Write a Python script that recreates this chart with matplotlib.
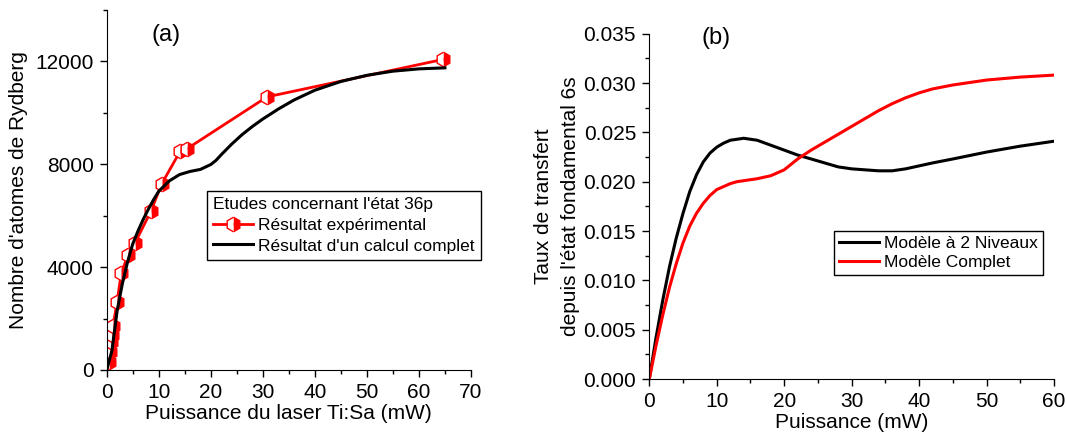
import numpy as np
import matplotlib
matplotlib.use("Agg")
import matplotlib.pyplot as plt
from matplotlib.ticker import MultipleLocator

plt.rcParams['font.family'] = ['Liberation Sans', 'DejaVu Sans']

# -------------------------------
# (a) data
# -------------------------------
exp_power = [0.4, 0.6, 0.8, 1.0, 1.2, 2.0, 2.8, 4.1, 5.4, 8.5, 10.6, 14.1, 15.4, 30.8, 64.7]
exp_atoms = [300, 700, 1100, 1350, 1700, 2650, 3780, 4460, 4920, 6180, 7250, 8500, 8600, 10620, 12080]

calc_power = [0, 1, 2, 3, 4, 5, 6, 7, 8, 9, 10, 12, 14, 16, 18, 20, 21, 22, 24, 26, 28,
              30, 33, 36, 40, 45, 50, 55, 60, 65]
calc_atoms = [0, 750, 2300, 3350, 4200, 4900, 5400, 5850, 6250, 6620, 6950, 7350, 7600,
              7720, 7800, 7990, 8150, 8370, 8780, 9150, 9470, 9760, 10150, 10500, 10880,
              11220, 11460, 11620, 11710, 11750]

# -------------------------------
# (b) data
# -------------------------------
puissance = [0, 1, 2, 3, 4, 5, 6, 7, 8, 9, 10, 11, 12, 13, 14, 15, 16, 18, 20, 22, 24,
             26, 28, 30, 32, 34, 36, 38, 40, 42, 45, 50, 55, 60]
taux_2niv = [0, 0.0042, 0.0080, 0.0114, 0.0143, 0.0168, 0.0190, 0.0207, 0.0220, 0.0229,
             0.0235, 0.0239, 0.0242, 0.0243, 0.0244, 0.0243, 0.0242, 0.0237, 0.0232,
             0.0227, 0.0223, 0.0219, 0.0215, 0.0213, 0.0212, 0.0211, 0.0211, 0.0213,
             0.0216, 0.0219, 0.0223, 0.0230, 0.0236, 0.0241]
taux_complet = [0, 0.0034, 0.0065, 0.0093, 0.0117, 0.0138, 0.0155, 0.0168, 0.0178, 0.0186,
                0.0192, 0.0195, 0.0198, 0.0200, 0.0201, 0.0202, 0.0203, 0.0206, 0.0212,
                0.0223, 0.0232, 0.0240, 0.0248, 0.0256, 0.0264, 0.0272, 0.0279, 0.0285,
                0.0290, 0.0294, 0.0298, 0.0303, 0.0306, 0.0308]

fig = plt.figure(figsize=(10.66, 4.34), dpi=100)
ax1 = fig.add_axes([0.1001, 0.1475, 0.3417, 0.8295])
ax2 = fig.add_axes([0.6091, 0.1267, 0.3796, 0.7957])

for ax in (ax1, ax2):
    ax.spines['top'].set_visible(False)
    ax.spines['right'].set_visible(False)
    ax.tick_params(which='both', direction='out', labelsize=15, width=1, pad=4.5)
    ax.tick_params(which='major', length=5)
    ax.tick_params(which='minor', length=3)

# -------------------------------
# Panel (a)
# -------------------------------
ax1.plot(exp_power, exp_atoms, color='red', lw=2, marker='h', markersize=10.5,
         fillstyle='right', markerfacecolor='red', markerfacecoloralt='white',
         markeredgecolor='red', markeredgewidth=1, label='Résultat expérimental')
ax1.plot(calc_power, calc_atoms, color='black', lw=2.2, label="Résultat d'un calcul complet")
ax1.set_xlim(0, 70)
ax1.set_ylim(0, 14000)
ax1.set_xticks(range(0, 71, 10))
ax1.set_yticks([0, 4000, 8000, 12000])
ax1.xaxis.set_minor_locator(MultipleLocator(5))
ax1.yaxis.set_minor_locator(MultipleLocator(2000))
ax1.set_xlabel('Puissance du laser Ti:Sa (mW)', fontsize=15, labelpad=1)
ax1.set_ylabel("Nombre d'atomes de Rydberg", fontsize=15, labelpad=5)
ax1.text(0.163, 0.93, '(a)', transform=ax1.transAxes, fontsize=17, ha='center', va='center')
leg1 = ax1.legend(loc='upper left', bbox_to_anchor=(0.275, 0.497), borderaxespad=0,
                  title="Etudes concernant l'état 36p", fontsize=12.5, title_fontsize=12.5,
                  fancybox=False, edgecolor='black', framealpha=1,
                  handlelength=2.3, handletextpad=0.3, borderpad=0.35, labelspacing=0.32)
leg1._legend_box.align = 'left'
leg1.get_frame().set_linewidth(1)

# -------------------------------
# Panel (b)
# -------------------------------
ax2.plot(puissance, taux_2niv, color='black', lw=2.2, label='Modèle à 2 Niveaux')
ax2.plot(puissance, taux_complet, color='red', lw=2.2, label='Modèle Complet')
ax2.set_xlim(0, 60)
ax2.set_ylim(0, 0.035)
ax2.set_xticks(range(0, 61, 10))
ax2.set_yticks(np.arange(0, 0.0351, 0.005))
ax2.yaxis.set_major_formatter(plt.FormatStrFormatter('%.3f'))
ax2.xaxis.set_minor_locator(MultipleLocator(5))
ax2.yaxis.set_minor_locator(MultipleLocator(0.0025))
ax2.set_xlabel('Puissance (mW)', fontsize=15, labelpad=1)
ax2.set_ylabel("Taux de transfert\ndepuis l'état fondamental 6s", fontsize=15,
               linespacing=1.5)
ax2.yaxis.set_label_coords(-0.172, 0.5)
ax2.text(0.165, 0.9875, '(b)', transform=ax2.transAxes, fontsize=17, ha='center', va='center')
leg2 = ax2.legend(loc='upper left', bbox_to_anchor=(0.456, 0.4286), borderaxespad=0,
                  fontsize=12.5, fancybox=False, edgecolor='black', framealpha=1,
                  handlelength=2.3, handletextpad=0.3, borderpad=0.3, labelspacing=0.2)
leg2.get_frame().set_linewidth(1)

plt.savefig('out.png', dpi=100)
